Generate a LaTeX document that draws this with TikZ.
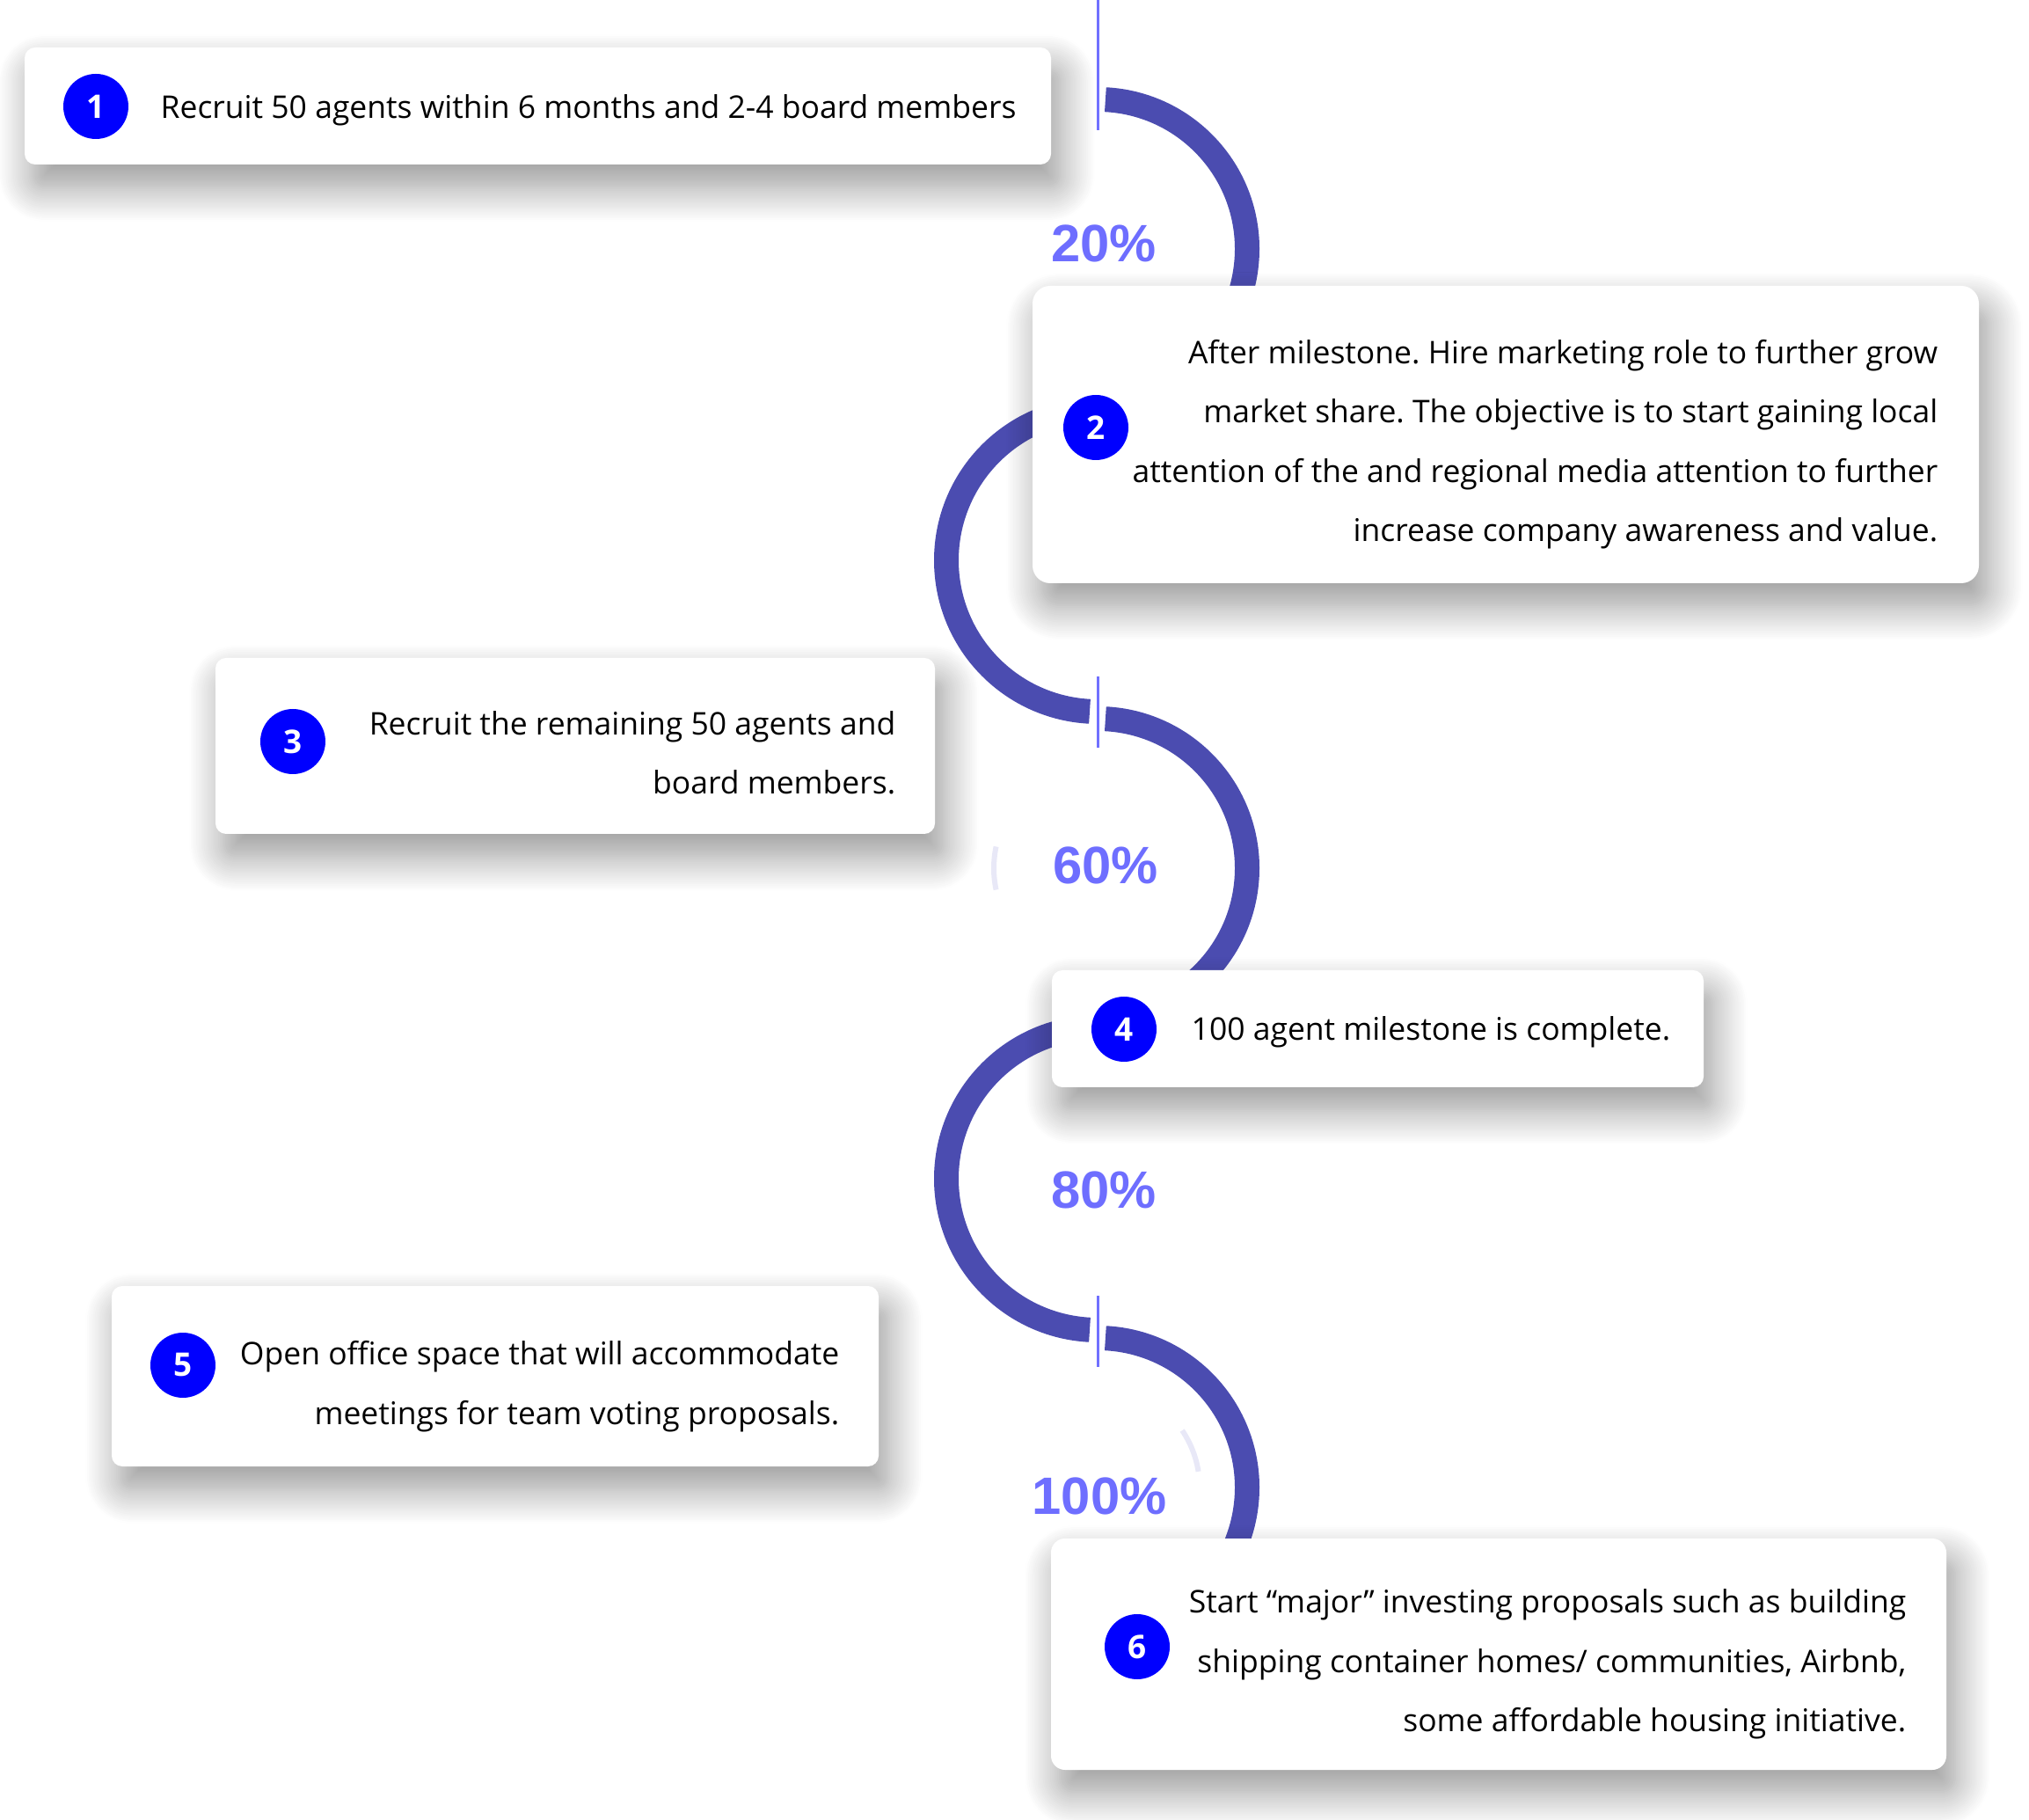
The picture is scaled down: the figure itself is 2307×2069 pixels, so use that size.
\documentclass[tikz,border=0pt]{standalone}
\usepackage{fontspec}
\setmainfont{Open Sans}
\newfontfamily\pctfont{Liberation Sans}
\usetikzlibrary{shadows.blur}
\definecolor{ringblue}{RGB}{75,76,176}
\definecolor{tickblue}{RGB}{112,112,255}
\definecolor{pctblue}{RGB}{110,110,255}
\definecolor{ghostblue}{RGB}{232,232,247}
\frenchspacing

\begin{document}
\begin{tikzpicture}[x=0.1mm, y=-0.1mm,
  card/.style = {fill=white, rounded corners=1.2mm, inner sep=0pt,
    blur shadow={shadow xshift=1mm, shadow yshift=-2.5mm,
      shadow blur radius=4mm, shadow blur steps=20, shadow opacity=42}},
  badge/.style = {circle, fill=blue, text=white, minimum size=7.4mm,
    inner sep=0pt, font=\fontsize{10.5}{12}\selectfont\bfseries},
  body/.style = {inner sep=0pt, font=\fontsize{10.1}{19.2}\selectfont},
  pct/.style = {text=pctblue, inner sep=0pt,
    font=\pctfont\bfseries\fontsize{17}{20}\selectfont},
  ring/.style = {draw=ringblue, line width=2.8mm},
  ghost/.style = {draw=ghostblue, line width=0.6mm},
  tick/.style = {draw=tickblue, line width=0.3mm}
  ]
  \useasboundingbox (0,0) rectangle (2307,2069);

  % s-shaped track
  \draw [ring] (1248,283)  ++(-87:170) arc (-87:90:170);
  \draw [ring] (1248,637)  ++(-90:172) arc (-90:-267:172);
  \draw [ring] (1248,987)  ++(-87:170) arc (-87:90:170);
  \draw [ring] (1248,1340) ++(-90:172) arc (-90:-267:172);
  \draw [ring] (1248,1691) ++(-87:170) arc (-87:90:170);
  \draw [ghost] (1248,987)  ++(168:118) arc (168:192:118);
  \draw [ghost] (1248,1691) ++(-34:116) arc (-34:-9:116);

  \draw [tick] (1248,0)    -- (1248,148);
  \draw [tick] (1248,769)  -- (1248,850);
  \draw [tick] (1248,1473) -- (1248,1554);

  % cards
  \node (card1) [card, minimum width=116.7mm, minimum height=13.3mm] at (611.5,120.5) {};
  \node (card2) [card, rounded corners=2mm, minimum width=107.6mm, minimum height=33.8mm] at (1712,494) {};
  \node (card3) [card, minimum width=81.8mm, minimum height=20mm] at (654,848) {};
  \node (card4) [card, minimum width=74.1mm, minimum height=13.3mm] at (1566.5,1169.5) {};
  \node (card5) [card, minimum width=87.2mm, minimum height=20.5mm] at (563,1564.5) {};
  \node (card6) [card, rounded corners=1.6mm, minimum width=101.8mm, minimum height=26.3mm] at (1704,1880.5) {};

  \node (num1) [badge] at (109,121)  {1};
  \node (num2) [badge] at (1246,486) {2};
  \node (num3) [badge] at (333,843)  {3};
  \node (num4) [badge] at (1278,1170) {4};
  \node (num5) [badge] at (208,1552) {5};
  \node (num6) [badge] at (1293,1872) {6};

  \node (txt1) [body, anchor=base west] at (182,135)
    {Recruit 50 agents within 6 months and 2-4 board members};
  \node (txt2) [body, align=right, anchor=east] at (2204,505)
    {After milestone. Hire marketing role to further grow\\
     market share. The objective is to start gaining local\\
     attention of the and regional media attention to further\\
     increase company awareness and value.};
  \node (txt3) [body, align=right, anchor=east] at (1019,856)
    {Recruit the remaining 50 agents and\\ board members.};
  \node (txt4) [body, anchor=base west] at (1354,1183)
    {100 agent milestone is complete.};
  \node (txt5) [body, align=right, anchor=east] at (955,1576)
    {Open office space that will accommodate\\ meetings for team voting proposals.};
  \node (txt6) [body, align=right, anchor=east] at (2168,1892)
    {Start “major” investing proposals such as building\\
     shipping container homes/ communities, Airbnb,\\
     some affordable housing initiative.};

  % percentages
  \node (p20)  [pct] at (1255,277)  {20\%};
  \node (p60)  [pct] at (1257,984)  {60\%};
  \node (p80)  [pct] at (1255,1353) {80\%};
  \node (p100) [pct] at (1250,1701) {100\%};
\end{tikzpicture}
\end{document}
